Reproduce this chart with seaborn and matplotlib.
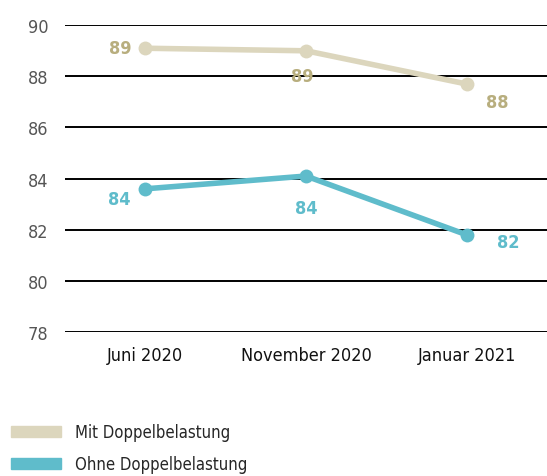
import pandas as pd
import matplotlib.pyplot as plt
import seaborn as sns
from matplotlib.patches import Patch

months = ['Juni 2020', 'November 2020', 'Januar 2021']
mit = [89.1, 89.0, 87.7]
ohne = [83.6, 84.1, 81.8]
series = ['Mit Doppelbelastung', 'Ohne Doppelbelastung']
yticks = [78, 80, 82, 84, 86, 88, 90]

line_colors = {'Mit Doppelbelastung': '#dcd6bd', 'Ohne Doppelbelastung': '#5fbccb'}
text_colors = {'Mit Doppelbelastung': '#b8ae7e', 'Ohne Doppelbelastung': '#5fbccb'}

# label offsets (points) for each value
offsets = {
    'Mit Doppelbelastung': [(-18, 0), (-3, -18), (22, -13)],
    'Ohne Doppelbelastung': [(-19, -7), (0, -23), (30, -5)],
}

df = pd.DataFrame({
    'Monat': months * 2,
    'Wert': mit + ohne,
    'Gruppe': [series[0]] * 3 + [series[1]] * 3,
})

sns.set_style('white')
plt.rcParams['font.family'] = ['DejaVu Sans']
plt.rcParams['font.stretch'] = 'condensed'

fig = plt.figure(figsize=(5.47, 4.77), dpi=100)
ax = fig.add_axes([0.119, 0.302, 0.881, 0.643])

for y in yticks:
    ax.axhline(y, color='black', lw=1.4, zorder=0)

sns.lineplot(data=df, x='Monat', y='Wert', hue='Gruppe', palette=line_colors,
             marker='o', markersize=10, markeredgewidth=0, linewidth=4,
             legend=False, ax=ax, sort=False)

for name, vals in zip(series, [mit, ohne]):
    for i, v in enumerate(vals):
        ax.annotate(f'{round(v):d}', (i, v), xytext=offsets[name][i],
                    textcoords='offset points', ha='center', va='center',
                    fontsize=13, fontweight='bold', color=text_colors[name])

ax.set_xlim(-0.5, 2.5)
ax.set_ylim(78, 90)
ax.set_yticks(yticks)
ax.set_xlabel('')
ax.set_ylabel('')
for s in ax.spines.values():
    s.set_visible(False)
ax.tick_params(axis='y', length=0, labelsize=13, labelcolor='#555555', pad=12)
ax.tick_params(axis='x', length=0, labelsize=13, labelcolor='#111111', pad=10)

handles = [Patch(color=line_colors[s], label=s) for s in series]
fig.legend(handles=handles, loc='lower left', bbox_to_anchor=(-0.007, -0.026),
           frameon=False, fontsize=12, handlelength=3.0, handleheight=0.65,
           labelspacing=0.85, handletextpad=0.8)

fig.savefig('out.png', dpi=100)
